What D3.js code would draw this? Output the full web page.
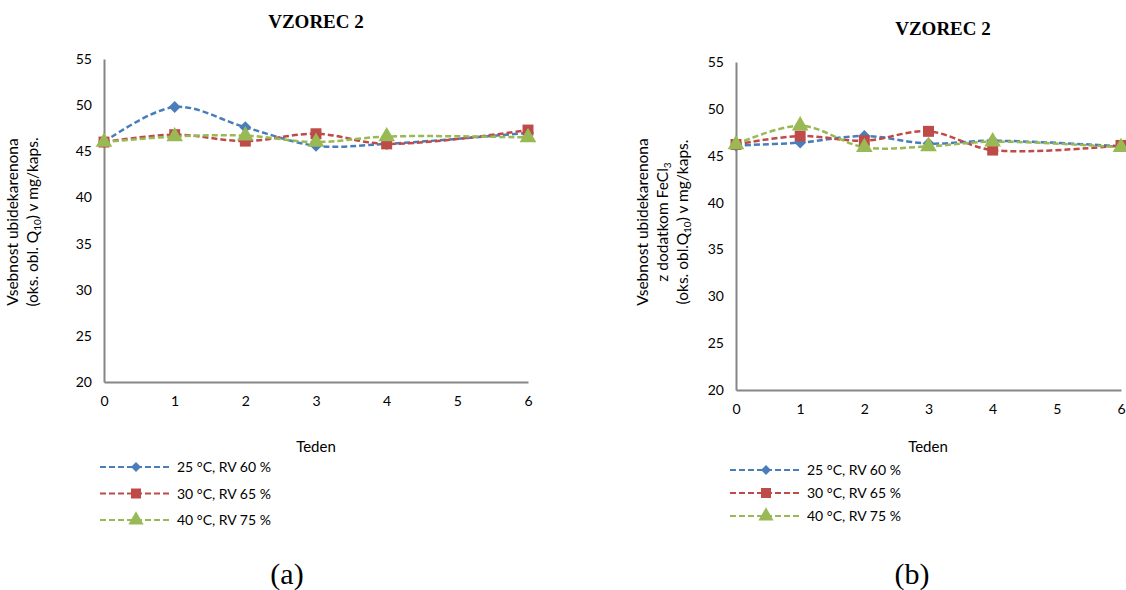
<!DOCTYPE html>
<html>
<head>
<meta charset="utf-8">
<script src="https://cdn.jsdelivr.net/npm/d3@7"></script>
<style>
  body { margin: 0; background: #fff; }
  text { font-family: "Lato", "Open Sans", sans-serif; fill: #000; }
</style>
</head>
<body>
<div class="container"></div>
<script>
// weeks and series
var weeks = [0, 1, 2, 3, 4, 6];
var seriesNames = ["25 °C, RV 60 %", "30 °C, RV 65 %", "40 °C, RV 75 %"];
var colors = ["#4a7ebb", "#be4b48", "#98b954"];
var shapes = [d3.symbolSquare, d3.symbolSquare, d3.symbolTriangle];
var rot = [45, 0, 0];

var a25 = [46.0, 49.8, 47.6, 45.6, 45.8, 47.0];
var a30 = [46.0, 46.8, 46.1, 46.9, 45.8, 47.3];
var a40 = [46.0, 46.6, 46.7, 46.0, 46.6, 46.5];

var b25 = [46.1, 46.4, 47.1, 46.3, 46.6, 46.0];
var b30 = [46.2, 47.1, 46.6, 47.6, 45.6, 46.1];
var b40 = [46.2, 48.2, 45.9, 46.0, 46.5, 45.9];

var yTicks = [20, 25, 30, 35, 40, 45, 50, 55];
var xTicks = [0, 1, 2, 3, 4, 5, 6];

var svg = d3.select(".container").append("svg")
  .attr("width", 1126)
  .attr("height", 590);

var drawPanel = function(p) {
  var g = svg.append("g");
  var x = d3.scaleLinear().domain([0, 6]).range([p.x0, p.x1]);
  var y = d3.scaleLinear().domain([20, 55]).range([p.y1, p.y0]);

  g.append("text").attr("x", p.titleX).attr("y", p.titleY)
    .attr("text-anchor", "middle")
    .style("font-family", "'Liberation Serif', serif")
    .style("font-weight", "bold").style("font-size", "19px")
    .text("VZOREC 2");

  // axes
  var yAxis = g.append("g").attr("transform", "translate(" + p.x0 + ",0)")
    .call(d3.axisLeft(y).tickValues(yTicks).tickSize(0).tickPadding(12).tickFormat(d3.format("d")));
  var xAxis = g.append("g").attr("transform", "translate(0," + p.y1 + ")")
    .call(d3.axisBottom(x).tickValues(xTicks).tickSize(0).tickPadding(14).tickFormat(d3.format("d")));
  [yAxis, xAxis].forEach(function(a) {
    a.select(".domain").attr("stroke", "#868686").attr("stroke-width", 2);
    a.selectAll("text").style("font-size", "14px").style("font-family", "Lato, sans-serif").attr("fill", "#000");
  });

  // y label
  var yl = g.append("text")
    .attr("transform", "translate(" + p.ylabX + "," + p.ylabY + ") rotate(-90)")
    .attr("text-anchor", "middle").style("font-size", "15.5px");
  p.ylab.forEach(function(line, i) {
    var t = yl.append("tspan").attr("x", 0).attr("y", i * 20);
    line.forEach(function(part) {
      var s = t.append("tspan").text(part[0]);
      if (part[1]) s.attr("baseline-shift", "-3").style("font-size", "10px");
    });
  });

  g.append("text").attr("x", p.teX).attr("y", p.teY)
    .attr("text-anchor", "middle").style("font-size", "15px").text("Teden");

  var line = d3.line()
    .x(function(d, i) { return x(weeks[i]); })
    .y(function(d) { return y(d); })
    .curve(d3.curveCatmullRom.alpha(0.5));

  p.data.forEach(function(vals, k) {
    g.append("path").datum(vals)
      .attr("d", line)
      .attr("fill", "none").attr("stroke", colors[k])
      .attr("stroke-width", 2.5).attr("stroke-dasharray", "6,3");
  });
  p.data.forEach(function(vals, k) {
    g.selectAll(".m" + k).data(vals).enter().append("path")
      .attr("class", "m" + k)
      .attr("transform", function(d, i) { return "translate(" + x(weeks[i]) + "," + y(d) + ") rotate(" + rot[k] + ")"; })
      .attr("d", d3.symbol().type(shapes[k]).size(k == 0 ? 72 : 120))
      .attr("fill", colors[k]);
  });

  // legend
  seriesNames.forEach(function(name, k) {
    var ly = p.legY + k * p.legStep;
    g.append("line").attr("x1", p.legX).attr("x2", p.legX + 70)
      .attr("y1", ly).attr("y2", ly)
      .attr("stroke", colors[k]).attr("stroke-width", 2).attr("stroke-dasharray", "6,3");
    g.append("path").attr("transform", "translate(" + (p.legX + 36) + "," + ly + ") rotate(" + rot[k] + ")")
      .attr("d", d3.symbol().type(shapes[k]).size(k == 0 ? 50 : 100))
      .attr("fill", colors[k]);
    g.append("text").attr("x", p.legX + 77).attr("y", ly + 5)
      .style("font-size", "14px").text(name);
  });

  svg.append("text").attr("x", p.capX).attr("y", 584)
    .attr("text-anchor", "middle")
    .style("font-family", "'Liberation Serif', serif").style("font-size", "30px")
    .text(p.cap);
};

drawPanel({
  x0: 104, x1: 528, y0: 59, y1: 382,
  titleX: 316, titleY: 28,
  ylabX: 18, ylabY: 222,
  ylab: [[["Vsebnost ubidekarenona"]], [["(oks. obl. Q"], ["10", true], [")  v mg/kaps."]]],
  teX: 316, teY: 452,
  legX: 100, legY: 467, legStep: 26.5,
  data: [a25, a30, a40],
  capX: 287, cap: "(a)"
});

drawPanel({
  x0: 736, x1: 1121, y0: 62, y1: 390,
  titleX: 943, titleY: 35,
  ylabX: 648, ylabY: 222,
  ylab: [[["Vsebnost  ubidekarenona"]], [["z dodatkom  FeCl"], ["3", true]], [["(oks. obl.Q"], ["10", true], [")  v mg/kaps."]]],
  teX: 928, teY: 452,
  legX: 730, legY: 470, legStep: 23,
  data: [b25, b30, b40],
  capX: 912, cap: "(b)"
});
</script>
</body>
</html>
